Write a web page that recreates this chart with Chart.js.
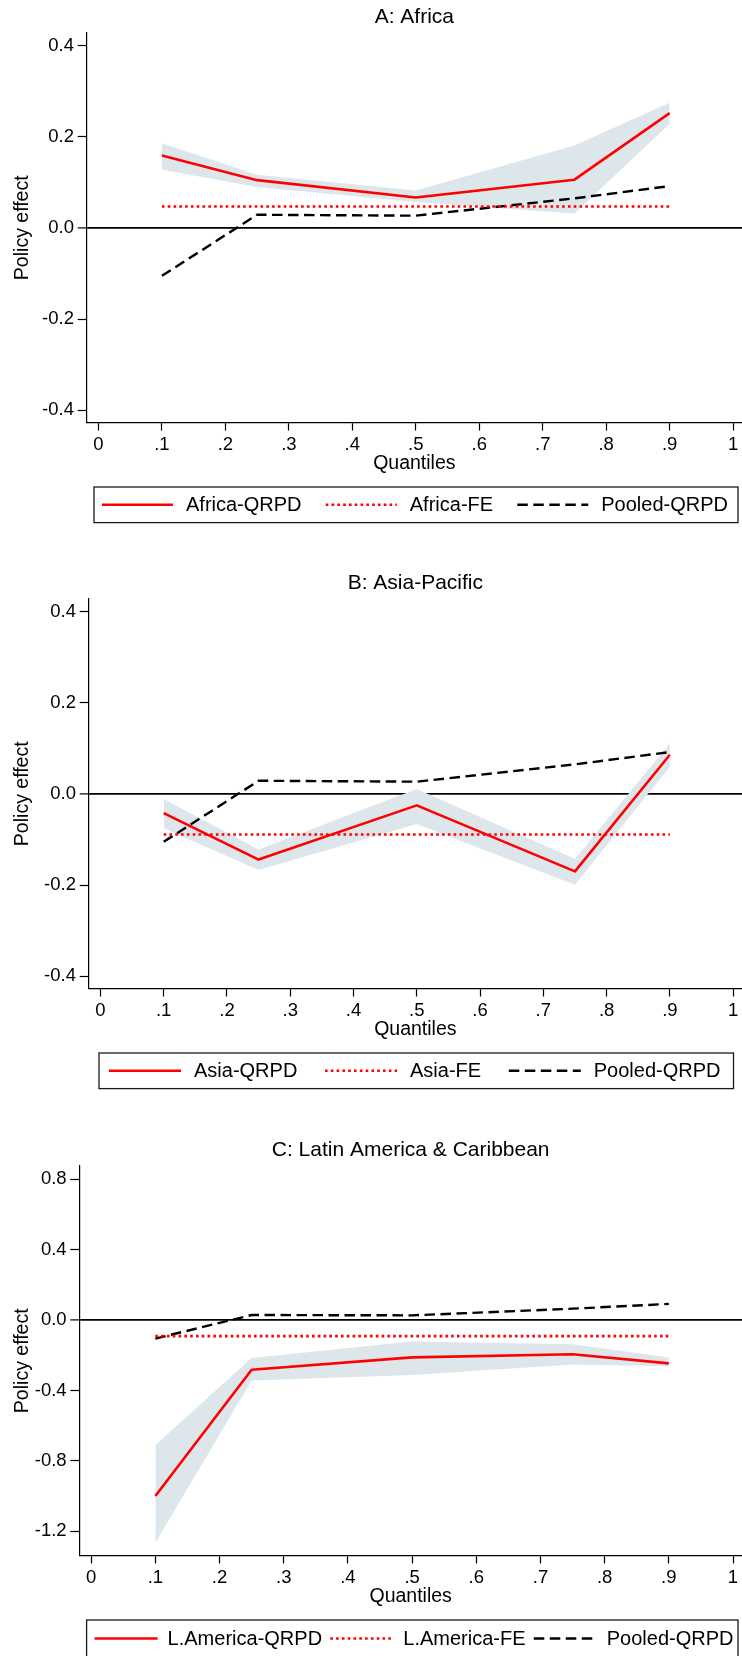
<!DOCTYPE html>
<html>
<head>
<meta charset="utf-8">
<script src="https://cdn.jsdelivr.net/npm/chart.js@4.4.0/dist/chart.umd.min.js"></script>
<style>
  html, body { margin: 0; padding: 0; background: #fff; }
  body { width: 742px; height: 1656px; position: relative; overflow: hidden; }
  canvas { position: absolute; left: 0; }
</style>
</head>
<body>
<canvas id="panelA" width="742" height="540" style="top:0px"></canvas>
<canvas id="panelB" width="742" height="534" style="top:566px"></canvas>
<canvas id="panelC" width="742" height="523" style="top:1133px"></canvas>
<script>
// quantiles where the QRPD estimates sit
const quantiles = [0.1, 0.25, 0.5, 0.75, 0.9];
const xTicks = [0, 0.1, 0.2, 0.3, 0.4, 0.5, 0.6, 0.7, 0.8, 0.9, 1];

// pooled estimate, same in all three panels
const pooledQrpd = [-0.105, 0.029, 0.027, 0.065, 0.092];

// A: Africa
const africaQrpd = [0.159, 0.105, 0.067, 0.106, 0.252];
const africaHigh = [0.186, 0.117, 0.082, 0.181, 0.275];
const africaLow = [0.128, 0.090, 0.057, 0.032, 0.229];
const africaFe = 0.047;

// B: Asia-Pacific
const asiaQrpd = [-0.042, -0.144, -0.025, -0.170, 0.086];
const asiaHigh = [-0.011, -0.122, 0.011, -0.143, 0.111];
const asiaLow = [-0.075, -0.167, -0.066, -0.199, 0.060];
const asiaFe = -0.089;

// C: Latin America & Caribbean
const latamQrpd = [-1.0, -0.282, -0.212, -0.194, -0.246];
const latamHigh = [-0.71, -0.216, -0.121, -0.137, -0.212];
const latamLow = [-1.266, -0.343, -0.312, -0.252, -0.262];
const latamFe = -0.091;

const yTicksSmall = [-0.4, -0.2, 0, 0.2, 0.4];
const yTicksLatam = [-1.2, -0.8, -0.4, 0, 0.4, 0.8];

Chart.defaults.font.family = '"Liberation Sans", Arial, sans-serif';
Chart.defaults.color = '#000';

const bandColor = 'rgb(221,230,235)';

function pts(xs, ys) {
  return xs.map((x, i) => ({ x: x, y: ys[i] }));
}

function fmtQuantile(v) {
  if (v === 0) return '0';
  if (v === 1) return '1';
  return '.' + Math.round(v * 10);
}

// Stata style legend: boxed, one row, keys spread over the box
const boxedLegend = {
  id: 'boxedLegend',
  afterDraw(chart, args, opts) {
    const ctx = chart.ctx;
    const area = chart.chartArea;
    const left = area.left + opts.insetLeft;
    const right = area.right - opts.insetRight;
    const top = area.bottom + opts.offsetTop;
    const h = opts.height;
    ctx.save();
    ctx.strokeStyle = '#1a1a1a';
    ctx.lineWidth = 1.3;
    ctx.setLineDash([]);
    ctx.strokeRect(left, top, right - left, h);
    ctx.font = opts.fontSize + 'px "Liberation Sans", Arial, sans-serif';
    const items = chart.data.datasets.filter(d => !d.hideInLegend);
    const widths = items.map(d => opts.keyLength + opts.keyGap + ctx.measureText(d.label).width);
    const used = widths.reduce((a, b) => a + b, 0);
    const gap = (right - left - opts.padLeft - opts.padRight - used) / (items.length - 1);
    const cy = top + h / 2;
    let x = left + opts.padLeft;
    items.forEach((d, i) => {
      ctx.beginPath();
      ctx.setLineDash(d.borderDash || []);
      ctx.strokeStyle = d.borderColor;
      ctx.lineWidth = d.borderWidth;
      ctx.moveTo(x, cy);
      ctx.lineTo(x + opts.keyLength, cy);
      ctx.stroke();
      ctx.setLineDash([]);
      ctx.fillStyle = '#000';
      ctx.textAlign = 'left';
      ctx.textBaseline = 'middle';
      ctx.fillText(d.label, x + opts.keyLength + opts.keyGap, cy + 1);
      x += widths[i] + gap;
    });
    ctx.restore();
  }
};

function buildPanel(id, cfg) {
  const canvas = document.getElementById(id);
  const datasets = [
    {
      label: cfg.names[0],
      data: pts(quantiles, cfg.qrpd),
      borderColor: '#ff0000',
      borderWidth: 2.6,
      borderJoinStyle: 'round',
      pointRadius: 0,
      fill: false
    },
    {
      label: cfg.names[1],
      data: [{ x: quantiles[0], y: cfg.fe }, { x: quantiles[quantiles.length - 1], y: cfg.fe }],
      borderColor: '#ff0000',
      borderWidth: 2.6,
      borderDash: [2.6, 3.2],
      pointRadius: 0,
      fill: false
    },
    {
      label: 'Pooled-QRPD',
      data: pts(quantiles, pooledQrpd),
      borderColor: '#000',
      borderWidth: 2.4,
      borderDash: [10.5, 5.5],
      pointRadius: 0,
      fill: false
    },
    {
      label: 'CI upper',
      data: pts(quantiles, cfg.high),
      borderColor: 'rgba(0,0,0,0)',
      borderWidth: 0,
      backgroundColor: bandColor,
      pointRadius: 0,
      fill: '+1',
      hideInLegend: true
    },
    {
      label: 'CI lower',
      data: pts(quantiles, cfg.low),
      borderColor: 'rgba(0,0,0,0)',
      borderWidth: 0,
      pointRadius: 0,
      fill: false,
      hideInLegend: true
    }
  ];

  return new Chart(canvas, {
    type: 'line',
    data: { datasets: datasets },
    plugins: [boxedLegend],
    options: {
      responsive: false,
      animation: false,
      events: [],
      layout: { padding: { left: 0, right: 0, top: 0, bottom: cfg.padBottom } },
      elements: { line: { tension: 0 } },
      plugins: {
        legend: { display: false },
        tooltip: { enabled: false },
        title: {
          display: true,
          text: cfg.title,
          fullSize: false,
          color: '#000',
          font: { size: 21, weight: 'normal' },
          padding: { top: 4.9, bottom: 2.9 }
        },
        boxedLegend: cfg.legend
      },
      scales: {
        x: {
          type: 'linear',
          min: -0.0185,
          max: 1.014,
          afterBuildTicks: s => { s.ticks = xTicks.map(v => ({ value: v })); },
          afterFit: s => { s.height = 52.5; },
          ticks: {
            callback: v => fmtQuantile(v),
            font: { size: 18.5 },
            color: '#000',
            padding: 3.4,
            autoSkip: false,
            maxRotation: 0
          },
          grid: {
            drawOnChartArea: false,
            drawTicks: true,
            tickLength: 8,
            tickColor: '#000',
            tickWidth: 1.2
          },
          border: { display: true, color: '#000', width: 1.2 },
          title: {
            display: true,
            text: 'Quantiles',
            color: '#000',
            font: { size: 19.5 },
            padding: { top: 0, bottom: 0 }
          }
        },
        y: {
          type: 'linear',
          min: cfg.yMin,
          max: cfg.yMax,
          afterBuildTicks: s => { s.ticks = cfg.yTicks.map(v => ({ value: v })); },
          afterFit: s => { s.width = cfg.yAxisX; },
          ticks: {
            callback: v => v.toFixed(1),
            font: { size: 18.5 },
            color: '#000',
            padding: 3.7
          },
          grid: {
            color: c => (c.tick && c.tick.value === 0) ? '#000' : 'rgba(0,0,0,0)',
            lineWidth: c => (c.tick && c.tick.value === 0) ? 1.8 : 1,
            drawTicks: true,
            tickLength: 9,
            tickColor: '#000',
            tickWidth: 1.2
          },
          border: { display: true, color: '#000', width: 1.2 },
          title: {
            display: true,
            text: 'Policy effect',
            color: '#000',
            font: { size: 19.5 },
            padding: { top: 10.8, bottom: 0 }
          }
        }
      }
    }
  });
}

buildPanel('panelA', {
  title: 'A: Africa',
  names: ['Africa-QRPD', 'Africa-FE'],
  qrpd: africaQrpd, high: africaHigh, low: africaLow, fe: africaFe,
  yMin: -0.427, yMax: 0.428, yTicks: yTicksSmall,
  yAxisX: 86.7, padBottom: 65,
  legend: { insetLeft: 7.3, insetRight: 4, offsetTop: 64.5, height: 35.6,
            padLeft: 8, padRight: 10, keyLength: 71, keyGap: 13, fontSize: 20 }
});

buildPanel('panelB', {
  title: 'B: Asia-Pacific',
  names: ['Asia-QRPD', 'Asia-FE'],
  qrpd: asiaQrpd, high: asiaHigh, low: asiaLow, fe: asiaFe,
  yMin: -0.427, yMax: 0.428, yTicks: yTicksSmall,
  yAxisX: 88.7, padBottom: 59,
  legend: { insetLeft: 10.3, insetRight: 8.5, offsetTop: 64.5, height: 35.6,
            padLeft: 10, padRight: 13, keyLength: 72, keyGap: 13, fontSize: 20 }
});

buildPanel('panelC', {
  title: 'C: Latin America & Caribbean',
  names: ['L.America-QRPD', 'L.America-FE'],
  qrpd: latamQrpd, high: latamHigh, low: latamLow, fe: latamFe,
  yMin: -1.338, yMax: 0.876, yTicks: yTicksLatam,
  yAxisX: 79.3, padBottom: 48,
  legend: { insetLeft: 7.3, insetRight: 4, offsetTop: 64.5, height: 37,
            padLeft: 8, padRight: 4.5, keyLength: 63, keyGap: 10, fontSize: 20 }
});
</script>
</body>
</html>
